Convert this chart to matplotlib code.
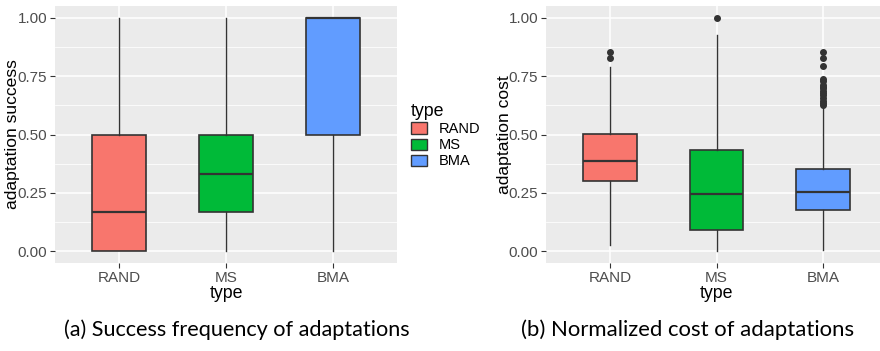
import matplotlib
matplotlib.use('Agg')
import matplotlib.pyplot as plt
from matplotlib.patches import Patch

# data
types = ['RAND', 'MS', 'BMA']
colors = ['#F8766D', '#00BA38', '#619CFF']

# success frequency: (whislo, q1, med, q3, whishi)
succ_lo = [0.0, 0.0, 0.0]
succ_q1 = [0.0, 0.167, 0.5]
succ_med = [0.167, 0.333, 1.0]
succ_q3 = [0.5, 0.5, 1.0]
succ_hi = [1.0, 1.0, 1.0]
succ_fliers = [[], [], []]

# normalized cost
cost_lo = [0.029, 0.0, 0.007]
cost_q1 = [0.299, 0.093, 0.175]
cost_med = [0.388, 0.246, 0.252]
cost_q3 = [0.502, 0.434, 0.351]
cost_hi = [0.791, 0.927, 0.622]
cost_fliers = [
    [0.827, 0.855],
    [1.0],
    [0.855, 0.827, 0.795, 0.737, 0.731, 0.712, 0.705, 0.697, 0.688,
     0.677, 0.668, 0.655, 0.645, 0.636, 0.626],
]

captions = ['(a) Success frequency of adaptations',
            '(b) Normalized cost of adaptations']
ylabels = ['adaptation success', 'adaptation cost']

W, H = 880, 351
fig = plt.figure(figsize=(W / 100, H / 100), dpi=100)

SANS = ['Liberation Sans', 'DejaVu Sans']
GRAY = '#4D4D4D'
DARK = '#333333'


def px(x0, y0, x1, y1):
    return [x0 / W, 1 - y1 / H, (x1 - x0) / W, (y1 - y0) / H]


def make_stats(lo, q1, med, q3, hi, fliers):
    stats = []
    for i in range(len(types)):
        stats.append(dict(whislo=lo[i], q1=q1[i], med=med[i], q3=q3[i],
                          whishi=hi[i], fliers=fliers[i], label=types[i]))
    return stats


def gg_box(ax, stats, ylabel, width_px):
    ax.set_facecolor('#EBEBEB')
    for s in ax.spines.values():
        s.set_visible(False)
    ax.set_axisbelow(True)
    ax.set_yticks([0, 0.25, 0.5, 0.75, 1.0])
    ax.set_yticks([0.125, 0.375, 0.625, 0.875], minor=True)
    ax.grid(True, which='major', color='white', lw=1.1)
    ax.grid(True, which='minor', axis='y', color='white', lw=0.55)
    ax.tick_params(which='minor', length=0)
    bp = ax.bxp(stats, positions=[1, 2, 3], widths=0.5, patch_artist=True,
                showcaps=False, flierprops=dict(marker='o', markersize=4,
                                                markerfacecolor=DARK,
                                                markeredgecolor=DARK),
                medianprops=dict(color=DARK, lw=1.6),
                whiskerprops=dict(color=DARK, lw=1.0),
                boxprops=dict(edgecolor=DARK, lw=1.2))
    for patch, c in zip(bp['boxes'], colors):
        patch.set_facecolor(c)
    ax.set_xlim(0.4, 3.6)
    ax.set_ylim(-0.05, 1.05)
    ax.set_yticklabels(['0.00', '0.25', '0.50', '0.75', '1.00'])
    ax.tick_params(which='major', length=3.5, width=0.8, color=DARK,
                   labelcolor=GRAY, labelsize=11, pad=2)
    for lab in ax.get_xticklabels() + ax.get_yticklabels():
        lab.set_family(SANS)
    ax.set_xlabel('type', fontsize=12.8, family=SANS, labelpad=0)
    ax.set_ylabel(ylabel, fontsize=12.6, family=SANS, va='center')
    ax.yaxis.set_label_coords(-42 / width_px, 0.5)


ax1 = fig.add_axes(px(55, 6, 397, 263))
gg_box(ax1, make_stats(succ_lo, succ_q1, succ_med, succ_q3, succ_hi,
                       succ_fliers), ylabels[0], 342)

ax2 = fig.add_axes(px(546, 6, 887, 263))
gg_box(ax2, make_stats(cost_lo, cost_q1, cost_med, cost_q3, cost_hi,
                       cost_fliers), ylabels[1], 341)

# legend
handles = [Patch(facecolor=c, edgecolor=DARK, lw=1.0, label=t)
           for t, c in zip(types, colors)]
leg = fig.legend(handles=handles, title='type', loc='upper left',
                 bbox_to_anchor=(405 / W, 1 - 97 / H), frameon=False,
                 prop={'family': SANS, 'size': 10.5}, handlelength=1.1,
                 handleheight=0.8, handletextpad=0.8, labelspacing=0.15,
                 borderaxespad=0)
leg.get_title().set_fontsize(12.8)
leg.get_title().set_family(SANS)
leg._legend_box.align = 'left'

# captions
fig.text(237 / W, 1 - 330 / H, captions[0], ha='center', va='center',
         fontsize=15.6, family=['Lato', 'DejaVu Sans'])
fig.text(688 / W, 1 - 330 / H, captions[1], ha='center', va='center',
         fontsize=15.9, family=['Lato', 'DejaVu Sans'])

fig.savefig('out.png', dpi=100)
